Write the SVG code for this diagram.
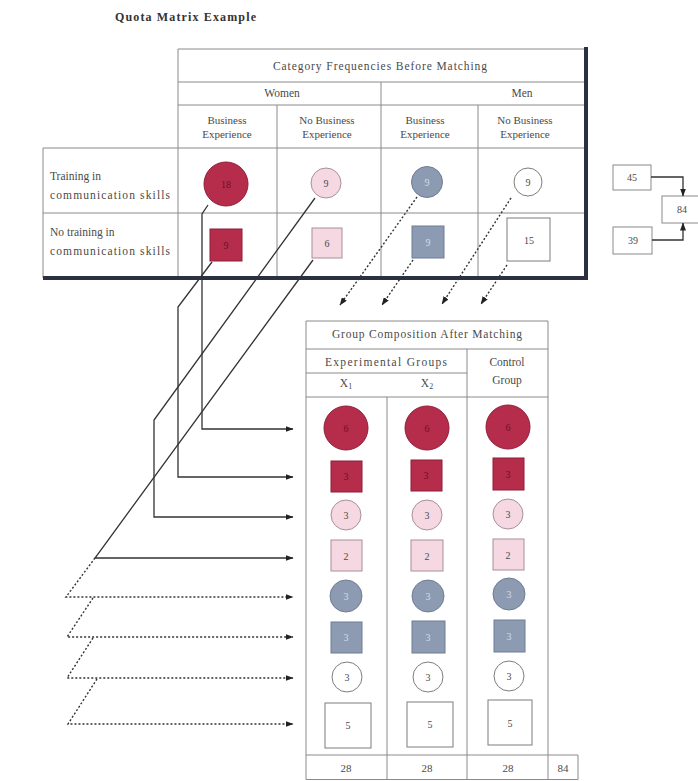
<svg xmlns="http://www.w3.org/2000/svg" width="698" height="781" viewBox="0 0 698 781">
<style>
text{font-family:"Liberation Serif","Times New Roman",serif;fill:#4a4a4a}
.h{font-size:11.5px;text-anchor:middle}
.c{font-size:11px;text-anchor:middle}
.l{font-size:11.5px}
.n{font-size:10px;text-anchor:middle}
.grid{stroke:#8a8a8a;stroke-width:1;fill:none}
.thick{stroke:#2b3142;stroke-width:4;fill:none}
.cr{fill:#b52d4b;stroke:#8e1e38;stroke-width:1}
.pk{fill:#f5d8e1;stroke:#a99099;stroke-width:1}
.gy{fill:#8d9bb2;stroke:#6f7d95;stroke-width:1}
.wh{fill:#fff;stroke:#7d7d7d;stroke-width:1}
.tcr{fill:#6e1025}
.tgy{fill:#d4dbe8}
.conn{stroke:#333;stroke-width:1.3;fill:none}
.dot{stroke:#333;stroke-width:1.4;fill:none;stroke-dasharray:2 2}
.box{fill:#fff;stroke:#8a8a8a;stroke-width:1}
</style>
<defs>
<marker id="ah" markerWidth="8" markerHeight="6" refX="7.5" refY="3" orient="auto" markerUnits="userSpaceOnUse">
<path d="M0,0 L8,3 L0,6 z" fill="#222"/>
</marker>
</defs>
<rect width="698" height="781" fill="#fff"/>

<text x="115" y="21" style="font-size:12px;font-weight:bold;fill:#333" textLength="141">Quota Matrix Example</text>

<g id="before-table">
<path class="grid" d="M178,49 H586 M178,82 H586 M178,105 H586 M43,148 H586 M43,213 H586 M178,49 V278 M381,82 V278 M277,105 V278 M478,105 V278 M43,148 V278"/>
<path class="thick" d="M586,47 V278 M43,278 H588"/>
<text class="h" x="380" y="70" textLength="214">Category Frequencies Before Matching</text>
<text class="h" x="282" y="97">Women</text>
<text class="h" x="522" y="97">Men</text>
<text class="c" x="227" y="124">Business</text><text class="c" x="227" y="138">Experience</text>
<text class="c" x="327" y="124">No Business</text><text class="c" x="327" y="138">Experience</text>
<text class="c" x="425" y="124">Business</text><text class="c" x="425" y="138">Experience</text>
<text class="c" x="525" y="124">No Business</text><text class="c" x="525" y="138">Experience</text>
<text class="l" x="50" y="180">Training in</text>
<text class="l" x="50" y="199" textLength="120">communication skills</text>
<text class="l" x="50" y="236">No training in</text>
<text class="l" x="50" y="255" textLength="120">communication skills</text>
</g>

<g id="w-bus-train"><circle class="cr" cx="226" cy="184" r="22"/><text class="n tcr" x="226" y="188">18</text></g>
<g id="w-nobus-train"><circle class="pk" cx="326" cy="183" r="15"/><text class="n" x="326" y="187">9</text></g>
<g id="m-bus-train"><circle class="gy" cx="427" cy="182" r="15.5"/><text class="n tgy" x="427" y="186">9</text></g>
<g id="m-nobus-train"><circle class="wh" cx="528" cy="182" r="14"/><text class="n" x="528" y="186">9</text></g>
<g id="w-bus-notrain"><rect class="cr" x="210" y="229" width="32" height="32"/><text class="n tcr" x="226" y="249">9</text></g>
<g id="w-nobus-notrain"><rect class="pk" x="312" y="228" width="30" height="30"/><text class="n" x="327" y="247">6</text></g>
<g id="m-bus-notrain"><rect class="gy" x="412" y="226" width="32" height="32"/><text class="n tgy" x="428" y="246">9</text></g>
<g id="m-nobus-notrain"><rect class="wh" x="507" y="218" width="43" height="43"/><text class="n" x="529" y="244">15</text></g>

<g id="box45"><rect class="box" x="613" y="165" width="38" height="25"/><text class="n" x="632" y="181">45</text></g>
<g id="box39"><rect class="box" x="613" y="227" width="39" height="27"/><text class="n" x="633" y="244">39</text></g>
<g id="box84"><rect class="box" x="662" y="196" width="40" height="27"/><text class="n" x="682" y="213">84</text></g>

<g id="after-table">
<path class="grid" d="M306,321 H548 M306,349 H548 M306,373 H467 M306,397 H548 M306,321 V779.5 M548,321 V779.5 M467,349 V779.5 M387,397 V779.5 M306,755 H578 M306,779.5 H578 M578,755 V779.5"/>
<text class="h" x="427" y="338" textLength="190">Group Composition After Matching</text>
<text class="h" x="386" y="366" textLength="122">Experimental Groups</text>
<text class="h" x="346" y="387">X<tspan font-size="8" dy="2">1</tspan></text>
<text class="h" x="427" y="387">X<tspan font-size="8" dy="2">2</tspan></text>
<text class="h" x="507" y="366">Control</text>
<text class="h" x="507" y="384">Group</text>
<text class="c" x="346" y="772">28</text>
<text class="c" x="427" y="772">28</text>
<text class="c" x="508" y="772">28</text>
<text class="c" x="563" y="772">84</text>
</g>

<g id="x1-col">
<circle class="cr" cx="346" cy="428" r="22"/><text class="n tcr" x="346" y="432">6</text>
<rect class="cr" x="331" y="461" width="31" height="31"/><text class="n tcr" x="346" y="480">3</text>
<circle class="pk" cx="346" cy="515" r="15"/><text class="n" x="346" y="519">3</text>
<rect class="pk" x="331" y="540" width="31" height="31"/><text class="n" x="346" y="560">2</text>
<circle class="gy" cx="346" cy="596" r="16"/><text class="n tgy" x="346" y="600">3</text>
<rect class="gy" x="331" y="622" width="31" height="31"/><text class="n tgy" x="346" y="641">3</text>
<circle class="wh" cx="347" cy="677" r="15"/><text class="n" x="347" y="681">3</text>
<rect class="wh" x="325" y="703" width="46" height="45"/><text class="n" x="348" y="729">5</text>
</g>
<g id="x2-col">
<circle class="cr" cx="427" cy="428" r="22"/><text class="n tcr" x="427" y="432">6</text>
<rect class="cr" x="411" y="460" width="31" height="31"/><text class="n tcr" x="426" y="479">3</text>
<circle class="pk" cx="427" cy="515" r="15"/><text class="n" x="427" y="519">3</text>
<rect class="pk" x="411" y="540" width="32" height="31"/><text class="n" x="427" y="560">2</text>
<circle class="gy" cx="428" cy="596" r="16"/><text class="n tgy" x="428" y="600">3</text>
<rect class="gy" x="412" y="621" width="33" height="32"/><text class="n tgy" x="428" y="641">3</text>
<circle class="wh" cx="428" cy="677" r="15"/><text class="n" x="428" y="681">3</text>
<rect class="wh" x="407" y="702" width="46" height="45"/><text class="n" x="430" y="728">5</text>
</g>
<g id="control-col">
<circle class="cr" cx="508" cy="427" r="22"/><text class="n tcr" x="508" y="431">6</text>
<rect class="cr" x="493" y="458" width="31" height="32"/><text class="n tcr" x="508" y="478">3</text>
<circle class="pk" cx="508" cy="514" r="15"/><text class="n" x="508" y="518">3</text>
<rect class="pk" x="493" y="539" width="31" height="31"/><text class="n" x="508" y="559">2</text>
<circle class="gy" cx="509" cy="594" r="16"/><text class="n tgy" x="509" y="598">3</text>
<rect class="gy" x="494" y="620" width="31" height="32"/><text class="n tgy" x="509" y="640">3</text>
<circle class="wh" cx="509" cy="676" r="15"/><text class="n" x="509" y="680">3</text>
<rect class="wh" x="488" y="700" width="44" height="45"/><text class="n" x="510" y="727">5</text>
</g>

<g id="connectors">
<path class="conn" d="M651,177 H683 V196" marker-end="url(#ah)"/>
<path class="conn" d="M652,240 H683 V223" marker-end="url(#ah)"/>
<path class="conn" d="M208,205 L202,214 V429 H293" marker-end="url(#ah)"/>
<path class="conn" d="M212,262 L178,307 V477 H293" marker-end="url(#ah)"/>
<path class="conn" d="M315,198 L154,420 V517 H293" marker-end="url(#ah)"/>
<path class="conn" d="M313,260 L95,558 H293" marker-end="url(#ah)"/>
<path class="dot" d="M95,558 L66,597 H293" marker-end="url(#ah)"/>
<path class="dot" d="M93,598 L67,637 H293" marker-end="url(#ah)"/>
<path class="dot" d="M93,638 L67,678 H293" marker-end="url(#ah)"/>
<path class="dot" d="M97,679 L68,724 H293" marker-end="url(#ah)"/>
<path class="dot" d="M417,197 L340,305" marker-end="url(#ah)"/>
<path class="dot" d="M413,260 L382,305" marker-end="url(#ah)"/>
<path class="dot" d="M511,198 L442,304" marker-end="url(#ah)"/>
<path class="dot" d="M507,265 L481,304" marker-end="url(#ah)"/>
</g>
</svg>
